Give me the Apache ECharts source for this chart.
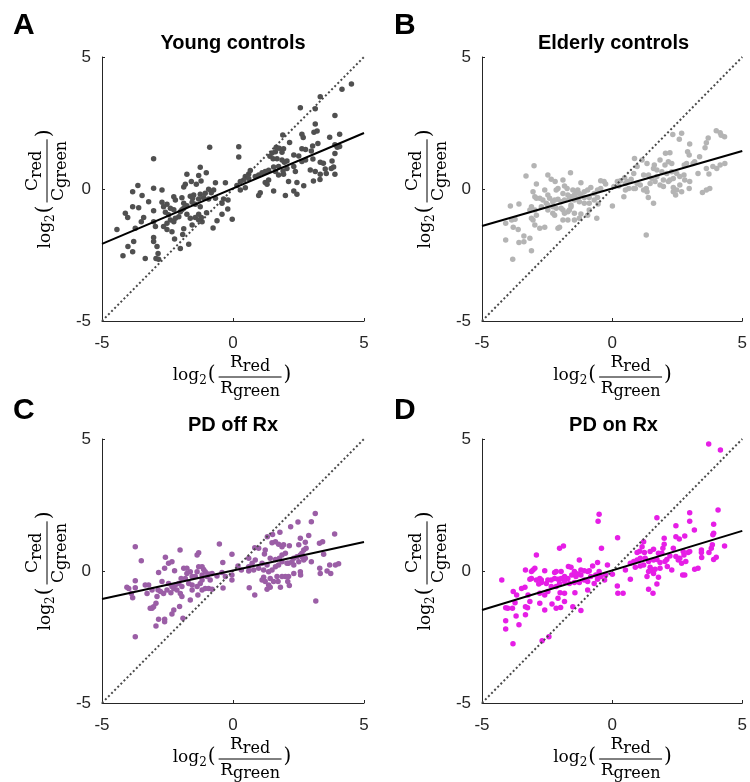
<!DOCTYPE html>
<html>
<head>
<meta charset="utf-8">
<script src="https://cdn.jsdelivr.net/npm/echarts@6/dist/echarts.min.js"></script>
<style>
  html, body { margin: 0; padding: 0; background: #fff; }
  #chart { width: 750px; height: 782px; }
</style>
</head>
<body>
<div id="chart"></div>
<script>
// Panel metadata
const panelTitles = ['Young controls', 'Elderly controls', 'PD off Rx', 'PD on Rx'];
const panelLetters = ['A', 'B', 'C', 'D'];
const pointColors = ['#505050', '#b4b4b4', '#9b5ea6', '#e61ee6'];
const tickValues = [-5, 0, 5];

// Linear fit of cone ratio against receptor ratio, per group
const fitSlopes = [0.42, 0.284, 0.216, 0.30];
const fitIntercepts = [0.02, 0.02, 0.02, 0.02];

// [log2(Rred/Rgreen), log2(Cred/Cgreen)] per subject
const youngControls = [
[4.52,3.98],[4.16,3.78],[3.33,3.49],[3.14,3.04],[2.57,3.08],[3.89,2.78],[3.14,2.46],[3.21,2.20],[3.09,2.15],[2.63,2.07],
[1.90,2.05],[2.68,1.95],[3.69,1.96],[4.07,2.07],[2.16,1.76],[1.65,1.58],[1.76,1.54],[1.93,1.52],[3.24,1.72],[3.04,1.63],
[2.99,1.44],[2.63,1.52],[2.77,1.50],[3.89,1.68],[4.07,1.61],[3.98,1.58],[2.32,1.29],[2.51,1.25],[2.77,1.10],[1.49,1.36],
[1.62,1.41],[1.87,1.39],[1.41,1.24],[1.53,1.15],[1.68,1.15],[1.87,1.10],[1.96,1.01],[2.06,1.06],[2.63,1.04],[3.05,1.14],
[3.33,1.01],[3.45,0.98],[3.78,1.06],[3.89,1.34],[3.84,0.83],[3.75,0.78],[3.52,0.76],[3.56,0.59],[3.33,0.56],[3.14,0.66],
[2.95,0.72],[2.38,0.66],[2.32,0.85],[2.06,0.78],[1.74,0.85],[1.55,0.83],[1.36,0.71],[1.23,0.66],[1.11,0.62],[0.98,0.53],
[0.85,0.47],[0.66,0.70],[0.60,0.57],[0.47,0.47],[1.62,0.66],[1.93,0.56],[2.12,0.28],[2.44,0.25],[2.70,0.12],[3.07,0.30],
[3.32,0.36],[3.89,0.56],[1.91,0.68],[1.74,0.53],[1.36,0.34],[1.23,0.25],[1.55,-0.08],[1.30,0.18],[1.04,-0.14],[0.98,-0.25],
[2.00,-0.25],[2.32,-0.08],[2.44,-0.20],[0.60,0.40],[0.41,0.34],[0.28,0.28],[0.15,0.13],[0.28,-0.04],[0.47,0.05],[0.22,1.60],
[0.22,1.21],[-0.89,1.58],[-3.03,1.15],[-1.25,0.82],[-1.31,0.51],[-1.02,0.62],[-1.76,0.56],[-1.59,0.28],[-1.82,0.18],[-1.88,0.08],
[-1.40,0.18],[-1.22,0.30],[-0.67,0.24],[-0.29,0.24],[-0.74,-0.04],[-0.83,-0.14],[-0.93,-0.01],[-1.06,-0.16],[-1.25,-0.20],[-1.50,-0.23],
[-1.63,-0.27],[-1.54,-0.35],[-1.31,-0.38],[-1.12,-0.33],[-0.93,-0.38],[-0.67,-0.35],[-0.36,-0.38],[-0.19,-0.42],[-0.42,-0.54],[-0.20,-0.76],
[-0.42,-0.96],[-0.61,-1.20],[-0.76,-1.48],[-0.03,-1.15],[-1.01,-0.90],[-1.21,-1.08],[-1.31,-0.96],[-1.25,-0.67],[-1.44,-0.58],[-1.56,-0.50],
[-1.76,-0.63],[-1.88,-0.73],[-2.01,-0.86],[-1.95,-0.79],[-1.76,-0.96],[-1.63,-1.11],[-1.44,-1.08],[-1.31,-1.17],[-1.18,-1.24],[-1.56,-1.36],
[-1.88,-1.51],[-1.92,-1.72],[-1.69,-2.09],[-2.01,-2.25],[-2.23,-1.89],[-2.33,-1.62],[-2.52,-1.53],[-2.65,-1.42],[-2.52,-1.30],[-2.39,-1.17],
[-2.26,-1.24],[-2.20,-1.11],[-2.07,-1.05],[-2.46,-0.98],[-2.58,-0.88],[-2.65,-0.67],[-2.71,-0.50],[-2.71,-0.04],[-3.03,0.03],[-3.03,-0.82],
[-3.22,-0.48],[-3.47,-0.25],[-3.63,0.13],[-3.83,-0.10],[-3.83,-0.67],[-3.60,-0.71],[-4.11,-0.92],[-4.02,-1.08],[-3.50,-1.24],[-3.41,-1.08],
[-3.73,-1.49],[-4.43,-1.53],[-3.03,-1.24],[-2.96,-1.42],[-3.03,-1.84],[-3.03,-1.99],[-2.90,-2.18],[-2.86,-2.44],[-2.94,-2.63],[-2.84,-2.66],
[-3.35,-2.63],[-3.83,-2.38],[-3.79,-1.99],[-4.01,-2.18],[-4.20,-2.53],[-2.26,-0.29],[-2.20,-0.42],[-1.95,-0.33],[-1.88,-0.54],[-2.39,-0.73],
[-2.52,-0.58],[-2.26,-0.79]
];

const elderlyControls = [
[4.00,2.21],[4.15,2.13],[4.32,1.98],[4.19,2.04],[3.69,1.93],[2.67,2.11],[2.33,2.06],[2.58,1.88],[2.98,1.70],[3.62,1.75],
[3.57,1.56],[2.90,1.41],[2.96,1.29],[2.22,1.37],[2.05,1.35],[2.16,1.03],[2.29,0.97],[2.03,0.91],[1.84,1.10],[1.62,0.91],
[1.59,0.78],[1.72,0.72],[1.91,0.65],[2.10,0.59],[2.29,0.65],[2.48,0.59],[2.60,0.47],[2.76,0.53],[2.35,0.40],[2.22,0.34],
[1.97,0.34],[1.72,0.47],[1.53,0.40],[1.40,0.53],[1.21,0.53],[0.86,1.16],[1.15,1.10],[1.34,0.97],[0.96,0.85],[0.83,0.59],
[0.58,0.28],[0.73,0.37],[0.96,0.21],[1.08,0.15],[0.89,0.02],[1.21,-0.04],[1.34,-0.10],[1.46,0.21],[1.65,0.28],[1.84,0.15],
[1.97,0.09],[2.16,0.28],[2.35,0.06],[2.48,-0.04],[2.60,0.15],[2.79,0.34],[2.98,0.28],[2.96,0.02],[2.35,-0.10],[2.44,-0.23],
[2.67,-0.10],[3.30,0.59],[3.62,0.78],[3.87,0.85],[4.02,0.78],[4.15,0.91],[4.33,0.97],[3.72,0.57],[3.75,0.02],[3.62,-0.04],
[3.47,-0.13],[3.11,0.97],[3.17,1.03],[3.36,1.22],[2.86,0.97],[2.77,0.91],[0.51,0.21],[0.51,-0.04],[0.45,-0.29],[0.64,0.02],
[0.83,0.02],[1.31,0.02],[1.39,-0.32],[1.59,-0.54],[1.31,-1.74],[0.01,-0.64],[-0.59,-1.11],[-0.31,0.28],[-0.44,0.31],[-0.25,0.19],
[-0.44,0.02],[-0.56,-0.04],[-0.69,-0.17],[-0.82,0.06],[-0.94,-0.04],[-1.07,-0.10],[-1.20,0.24],[-1.32,-0.04],[-1.39,-0.10],[-1.26,-0.17],
[-1.20,-0.23],[-1.45,-0.23],[-1.58,-0.29],[-1.51,-0.04],[-1.64,-0.35],[-1.83,-0.42],[-1.96,-0.48],[-2.08,-0.39],[-2.21,-0.42],[-2.28,-0.48],
[-2.40,-0.35],[-2.47,-0.23],[-2.59,-0.04],[-2.47,0.53],[-2.34,0.37],[-2.19,0.28],[-2.08,0.02],[-2.15,-0.04],[-1.89,0.34],[-1.60,0.62],
[-1.83,0.11],[-1.73,0.02],[-1.89,-0.17],[-1.70,-0.23],[-1.45,-0.42],[-1.26,-0.48],[-1.07,-0.54],[-0.88,-0.54],[-0.69,-0.42],[-0.54,-0.57],
[-0.56,-0.32],[-0.88,-0.32],[-1.07,-0.32],[-1.32,-0.35],[-1.58,-0.61],[-1.70,-0.86],[-1.89,-0.80],[-1.83,-0.92],[-1.96,-0.73],[-2.15,-0.73],
[-2.28,-0.67],[-2.47,-0.61],[-2.53,-0.54],[-2.66,-0.42],[-2.78,-0.35],[-2.91,-0.35],[-2.97,-0.29],[-3.04,-0.10],[-2.91,0.19],[-3.00,0.88],
[-3.31,0.49],[-3.10,-0.67],[-3.16,-0.80],[-2.97,-0.80],[-2.72,-0.67],[-2.91,-0.99],[-3.04,-1.17],[-3.10,-1.11],[-2.97,-1.36],[-2.78,-1.49],
[-2.59,-1.45],[-2.08,-1.49],[-2.02,-1.45],[-2.21,-0.99],[-1.89,-1.17],[-1.70,-1.17],[-1.45,-1.17],[-1.26,-1.11],[-1.20,-0.95],[-0.94,-0.99],
[-3.86,-1.17],[-3.73,-1.15],[-3.58,-0.57],[-3.91,-0.64],[-4.09,-1.30],[-3.80,-1.45],[-3.61,-1.53],[-3.39,-1.78],[-3.58,-2.03],[-3.39,-2.00],
[-3.16,-1.87],[-4.09,-1.93],[-3.10,-2.34],[-3.82,-2.66],[-1.45,-0.92],[-1.64,-0.80],[-2.47,-0.80],[-2.28,-0.92],[-1.58,-0.67],[-0.88,-0.80],
[0.20,0.28],[0.32,0.31],[0.26,0.11],[0.07,0.09],[0.48,0.43]
];

const pdOffRx = [
[3.14,2.18],[2.99,1.87],[2.48,1.86],[2.20,1.68],[1.79,1.47],[1.51,1.38],[1.31,1.30],[1.62,1.11],[1.49,1.07],[1.74,1.01],
[1.87,0.92],[1.93,0.99],[2.15,0.96],[2.51,0.99],[2.76,1.09],[2.89,1.34],[2.57,1.24],[3.88,1.40],[3.42,1.11],[3.30,1.05],
[3.46,0.63],[2.79,0.86],[2.70,0.80],[2.63,0.67],[2.57,0.61],[2.44,0.54],[2.32,0.48],[2.25,0.35],[2.12,0.29],[2.00,0.67],
[1.87,0.61],[1.77,0.48],[1.62,0.44],[1.42,0.48],[1.23,0.80],[1.20,0.64],[0.98,0.86],[0.83,0.88],[0.60,0.48],[0.85,0.42],
[0.73,0.29],[0.60,0.16],[0.60,0.00],[0.79,0.04],[0.98,0.10],[1.11,0.29],[1.30,0.23],[1.17,0.04],[1.36,-0.03],[1.49,0.04],
[1.62,0.16],[1.74,0.23],[1.87,0.35],[2.06,0.29],[2.32,0.23],[2.51,0.35],[2.70,0.42],[2.99,0.35],[2.76,0.48],[2.63,0.54],
[3.31,0.10],[3.33,-0.09],[3.69,0.23],[3.91,0.23],[4.03,0.27],[3.59,0.00],[3.73,-0.09],[2.57,-0.03],[2.58,-0.15],[2.32,-0.09],
[2.12,-0.21],[2.00,-0.21],[1.87,-0.21],[1.68,-0.21],[1.42,-0.28],[1.17,-0.24],[1.11,-0.34],[1.23,-0.40],[1.36,-0.53],[1.55,-0.40],
[1.72,-0.40],[2.09,-0.40],[2.15,-0.55],[1.81,-0.62],[1.42,-0.62],[1.30,-0.69],[0.83,-0.91],[0.62,-0.63],[3.16,-1.14],[-0.04,0.63],
[0.19,0.19],[0.32,0.04],[-0.04,-0.15],[-0.04,-0.34],[-0.29,-0.21],[-0.42,-0.06],[-0.61,-0.19],[-0.39,0.32],[-0.52,1.02],[-0.38,-0.64],
[-0.80,-0.09],[-0.93,-0.11],[-0.99,-0.21],[-1.12,0.06],[-1.18,0.16],[-1.31,0.16],[-1.37,-0.03],[-1.44,-0.21],[-1.63,-0.03],[-1.76,-0.09],
[-1.88,0.10],[-1.76,0.10],[-1.56,-0.21],[-1.56,-0.53],[-1.69,-0.47],[-1.82,-0.28],[-1.98,-0.28],[-2.07,-0.47],[-2.20,-0.53],[-2.26,-0.66],
[-2.37,-0.82],[-2.52,-0.72],[-2.65,-0.85],[-2.77,-0.78],[-2.86,-0.72],[-2.71,-0.40],[-2.84,-0.06],[-2.61,0.10],[-2.46,0.29],[-2.33,0.35],
[-2.23,0.01],[-2.02,0.80],[-1.37,0.61],[-1.31,0.69],[-1.18,-0.34],[-1.25,-0.47],[-1.37,-0.59],[-1.18,-0.72],[-1.06,-0.66],[-0.93,-0.66],
[-0.80,-0.69],[-1.34,-0.91],[-1.95,-0.97],[-2.01,-0.85],[-2.14,-0.72],[-1.95,-0.59],[-2.33,-0.59],[-2.46,-0.47],[-2.58,0.52],[-3.50,0.39],
[-3.73,0.92],[-3.73,-0.37],[-3.73,-0.63],[-3.98,-0.66],[-4.05,-0.62],[-3.88,-0.85],[-3.83,-1.01],[-3.35,-0.53],[-3.22,-0.53],[-3.28,-0.85],
[-3.09,-0.72],[-2.90,-0.97],[-2.94,-1.22],[-3.09,-1.41],[-3.03,-1.35],[-3.16,-1.41],[-2.26,-1.48],[-2.33,-1.63],[-2.04,-1.34],[-1.91,-1.79],
[-2.61,-1.83],[-2.61,-1.92],[-2.84,-1.83],[-2.94,-2.08],[-3.73,-2.49],[-1.63,-1.10],[-1.56,-0.72],[-1.18,-0.15],[-1.06,-0.03],[-0.87,-0.34]
];

const pdOnRx = [
[3.71,4.81],[4.16,4.58],[4.07,2.31],[2.98,2.21],[1.72,2.02],[-0.50,2.15],[-0.54,1.88],[2.98,1.88],[3.90,1.77],[2.45,1.71],
[3.16,1.55],[3.90,1.43],[3.87,1.37],[0.21,1.26],[2.45,1.30],[2.58,1.21],[2.79,1.33],[2.00,1.24],[2.00,1.01],[1.21,1.11],
[1.15,0.92],[1.59,0.82],[1.95,0.86],[1.06,0.75],[0.96,0.70],[1.24,0.70],[1.46,0.74],[1.78,0.67],[1.91,0.67],[2.35,0.86],
[2.73,0.74],[2.92,0.70],[3.43,0.80],[3.43,0.70],[3.72,0.70],[3.85,0.99],[3.81,0.86],[4.32,0.95],[4.00,0.52],[3.90,0.44],
[3.44,0.51],[2.98,0.74],[2.76,0.61],[2.60,0.48],[2.54,0.42],[2.45,0.55],[2.22,0.57],[2.10,0.44],[2.03,0.36],[1.84,0.32],
[1.72,0.44],[1.59,0.42],[1.40,0.36],[1.27,0.48],[1.08,0.48],[0.96,0.42],[0.83,0.36],[0.70,0.29],[0.89,0.14],[1.08,0.19],
[1.21,0.23],[1.46,0.14],[1.53,0.04],[1.65,0.07],[1.84,0.10],[2.12,0.17],[2.29,0.04],[2.67,0.29],[2.83,0.36],[2.71,-0.15],
[2.79,-0.15],[3.17,0.07],[3.30,0.10],[1.40,-0.02],[1.59,-0.09],[1.34,-0.21],[1.78,-0.24],[1.72,-0.49],[1.40,-0.69],[1.57,-0.84],
[0.70,-0.31],[0.51,0.04],[0.20,-0.57],[0.22,-0.84],[0.42,-0.84],[0.01,-0.12],[-0.25,-0.15],[-0.18,0.23],[-0.29,-0.34],[-0.41,0.86],
[-0.56,0.32],[-0.75,0.19],[-0.88,0.01],[-1.07,0.01],[-1.20,-0.15],[-1.32,-0.11],[-1.45,-0.02],[-1.58,0.14],[-1.26,0.42],[-1.20,0.04],
[-1.39,-0.21],[-1.55,-0.15],[-1.70,-0.28],[-1.83,-0.21],[-1.96,-0.28],[-2.08,-0.31],[-2.21,-0.28],[-2.34,-0.34],[-2.47,-0.34],[-2.53,-0.47],
[-2.72,-0.34],[-2.78,-0.28],[-2.91,-0.34],[-3.10,-0.28],[-3.16,-0.31],[-3.35,-0.62],[-3.48,-0.66],[-3.80,-0.78],[-3.67,-0.91],[-4.24,-0.34],
[-3.23,-0.91],[-2.78,-0.84],[-2.59,-0.91],[-2.47,-0.78],[-2.34,-0.59],[-2.15,-0.59],[-2.02,-0.47],[-1.83,-0.40],[-1.64,-0.47],[-1.45,-0.44],
[-1.26,-0.44],[-1.07,-0.34],[-0.94,-0.40],[-0.94,-0.02],[-0.82,-0.21],[-0.63,-0.15],[-0.50,-0.02],[-0.44,-0.21],[-0.56,-0.31],[-0.69,-0.47],
[-0.94,-0.72],[-1.43,-0.82],[-1.83,-0.84],[-2.00,-0.82],[-2.08,-1.03],[-1.98,-1.38],[-2.15,-1.41],[-2.31,-1.25],[-2.59,-1.48],[-1.83,-1.16],
[-1.51,-1.35],[-1.20,-1.50],[-2.78,-1.22],[-3.16,-1.16],[-3.25,-1.39],[-3.33,-1.35],[-3.73,-1.20],[-3.83,-1.41],[-4.09,-1.39],[-4.01,-1.41],
[-3.69,-1.70],[-3.33,-1.66],[-3.58,-2.04],[-4.09,-1.88],[-4.09,-2.20],[-3.81,-2.76],[-2.69,-2.64],[-2.43,-2.49],[-2.91,0.61],[-2.97,0.10],
[-3.04,0.04],[-3.33,0.04],[-3.10,-0.02],[-2.02,0.86],[-1.87,0.95],[-1.41,-0.09],[-2.59,0.01],[-2.72,-0.44],[-2.82,-0.49],[-2.21,-0.06],
[-1.96,-0.02],[-1.68,0.17],[-2.15,-0.02]
];

const groupPoints = [youngControls, elderlyControls, pdOffRx, pdOnRx];

// Layout of the 2x2 panel grid
const grids = [
  { left: 102, top: 57, width: 262, height: 264 },
  { left: 482, top: 57, width: 263, height: 264 },
  { left: 102, top: 439, width: 262, height: 264 },
  { left: 482, top: 439, width: 263, height: 264 }
];

const AXIS_COLOR = '#262626';
const SANS = '"Liberation Sans", Arial, Helvetica, sans-serif';
const SERIF = '"DejaVu Serif", serif';

const measureCtx = document.createElement('canvas').getContext('2d');
function measure(str, size, family) {
  measureCtx.font = size + 'px ' + (family || SERIF);
  return measureCtx.measureText(str).width;
}

// Text placed by its alphabetic baseline (middle of em box sits ~0.346em above it)
function baselineText(s, x, baseline, size, opts) {
  opts = opts || {};
  const font = (opts.weight ? opts.weight + ' ' : '') + size + 'px ' + (opts.family || SERIF);
  const align = opts.align || 'left';
  return {
    type: 'text', x: x, y: baseline - 0.346 * size, silent: true,
    style: {
      text: s, font: font, fill: opts.fill || '#000',
      align: align, verticalAlign: 'middle',
      textAlign: align, textVerticalAlign: 'middle'
    }
  };
}

// log2( X_red / X_green ) typeset as a fraction; origin sits on the fraction bar
function ratioLabel(sym, cx, cy, vertical) {
  const M = 17, S = 16, T = 12, P = 20;
  const wLog = measure('log', M), w2 = measure('2', T), wP = measure('(', P);
  const wSym = measure(sym, M), wRed = measure('red', S), wGreen = measure('green', S);
  const barW = Math.max(wSym + wRed, wSym + wGreen) + 3;
  const total = wLog + w2 + 1 + wP + 3 + barW + 2 + wP;
  let x = -total / 2;
  const kids = [];
  kids.push(baselineText('log', x, 4, M)); x += wLog;
  kids.push(baselineText('2', x, 8, T)); x += w2 + 1;
  kids.push(baselineText('(', x, 5, P)); x += wP + 3;
  const bx = x;
  kids.push({ type: 'line', silent: true,
    shape: { x1: bx, y1: 0, x2: bx + barW, y2: 0 },
    style: { stroke: '#000', lineWidth: 1 } });
  const nx = bx + (barW - wSym - wRed) / 2;
  kids.push(baselineText(sym, nx, -9, M));
  kids.push(baselineText('red', nx + wSym, -5, S));
  const dx = bx + (barW - wSym - wGreen) / 2;
  kids.push(baselineText(sym, dx, 17, M));
  kids.push(baselineText('green', dx + wSym, 20, S));
  x = bx + barW + 2;
  kids.push(baselineText(')', x, 5, P));
  return { type: 'group', x: cx, y: cy, rotation: vertical ? Math.PI / 2 : 0, silent: true, children: kids };
}

function axisCommon(i) {
  return {
    type: 'value', gridIndex: i, min: -5, max: 5, interval: 5,
    axisLine: { show: true, onZero: false, lineStyle: { color: AXIS_COLOR, width: 1 } },
    axisTick: { show: true, inside: true, length: 3, lineStyle: { color: AXIS_COLOR, width: 1 } },
    splitLine: { show: false },
    axisLabel: {
      color: AXIS_COLOR, fontSize: 17, fontFamily: SANS,
      customValues: tickValues
    }
  };
}

const xAxes = grids.map((g, i) => {
  const a = axisCommon(i);
  a.axisLabel.margin = 14;
  return a;
});
const yAxes = grids.map((g, i) => {
  const a = axisCommon(i);
  a.axisLabel.margin = 11;
  return a;
});

const series = [];
groupPoints.forEach((pts, i) => {
  series.push({
    type: 'scatter', xAxisIndex: i, yAxisIndex: i,
    data: pts, symbol: 'circle', symbolSize: 5.5,
    itemStyle: { color: pointColors[i], opacity: 1 },
    silent: true, z: 2
  });
  series.push({
    type: 'line', xAxisIndex: i, yAxisIndex: i,
    data: [[-5, -5], [5, 5]], symbol: 'none', silent: true, z: 3,
    lineStyle: { color: '#4a4a4a', width: 2, type: [2, 2.4], cap: 'butt' }
  });
  const m = fitSlopes[i], b = fitIntercepts[i];
  series.push({
    type: 'line', xAxisIndex: i, yAxisIndex: i,
    data: [[-5, b + m * -5], [5, b + m * 5]], symbol: 'none', silent: true, z: 4,
    lineStyle: { color: '#000', width: 2 }
  });
});

const graphics = [];
grids.forEach((g, i) => {
  const cx = g.left + g.width / 2;
  const cy = g.top + g.height / 2;
  const bottom = g.top + g.height;
  // panel letter
  graphics.push(baselineText(panelLetters[i], i % 2 === 0 ? 13 : 394, g.top - 21 - (i >= 2 ? -3 : 0), 30,
    { family: SANS, weight: 'bold' }));
  // panel title
  graphics.push(baselineText(panelTitles[i], cx, g.top - 7, 20,
    { family: SANS, weight: 'bold', align: 'center' }));
  // axis labels
  graphics.push(ratioLabel('R', cx - 1, bottom + 56, false));
  graphics.push(ratioLabel('C', g.left - 55, cy, true));
});

const chart = echarts.init(document.getElementById('chart'), null, { renderer: 'canvas' });
chart.setOption({
  animation: false,
  backgroundColor: '#ffffff',
  grid: grids,
  xAxis: xAxes,
  yAxis: yAxes,
  series: series,
  graphic: { elements: graphics }
});
</script>
</body>
</html>
